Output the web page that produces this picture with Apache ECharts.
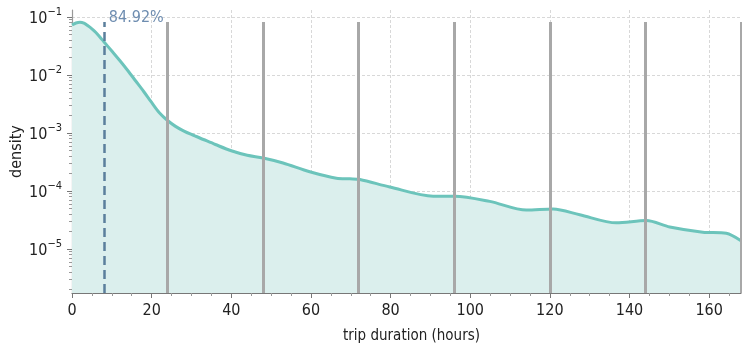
<!DOCTYPE html>
<html>
<head>
<meta charset="utf-8">
<script src="https://cdn.jsdelivr.net/npm/echarts@6/dist/echarts.min.js"></script>
<style>html,body{margin:0;padding:0;background:#fff}#c{width:742px;height:346px}</style>
</head>
<body>
<div id="c"></div>
<script>
// trip duration (hours) and estimated density
const hours   = [0, 1, 2, 3, 4, 5, 6, 7, 8, 10, 12, 14, 16, 18, 20, 22, 24, 26, 28, 30, 33, 36, 40, 44, 48, 53, 59.7, 66.4, 69.8, 72.3, 79.8, 90.7, 96.1, 104.9, 114.1, 120.8, 127.5, 136.7, 144.2, 150.1, 158.4, 164.3, 168];
const density = [7.28e-2, 7.88e-2, 8.10e-2, 7.81e-2, 7.05e-2, 6.26e-2, 5.40e-2, 4.52e-2, 3.75e-2, 2.59e-2, 1.78e-2, 1.196e-2, 7.88e-3, 5.19e-3, 3.36e-3, 2.21e-3, 1.64e-3, 1.30e-3, 1.09e-3, 9.42e-4, 7.72e-4, 6.33e-4, 4.93e-4, 4.12e-4, 3.71e-4, 3.04e-4, 2.14e-4, 1.66e-4, 1.62e-4, 1.58e-4, 1.17e-4, 8.13e-5, 8.13e-5, 6.61e-5, 4.68e-5, 4.90e-5, 3.89e-5, 2.82e-5, 3.09e-5, 2.40e-5, 1.95e-5, 1.86e-5, 1.38e-5];
const dayMarks = [24, 48, 72, 96, 120, 144, 168];
const quantileX = 8;
const quantileLabel = '84.92%';
const refTop = 8.2e-2;
const yMinD = 1.74e-6, yMaxD = 0.132;
const xTicks = [0, 20, 40, 60, 80, 100, 120, 140, 160];
const yDecades = [-5, -4, -3, -2, -1];

const L = v => Math.log10(v);
const FONT = "'Liberation Sans Narrow', 'DejaVu Sans Condensed', sans-serif";
const yMin = L(yMinD), yMax = L(yMaxD);
const minorY = [];
for (let n = -6; n <= 0; n++) for (let k = 2; k <= 9; k++) {
  const v = n + Math.log10(k);
  if (v > yMin && v < yMax) minorY.push(v);
}
const minorX = [];
for (let x = 5; x < 168; x += 5) if (x % 20 !== 0) minorX.push(x);

const curve = hours.map((h, i) => [h, L(density[i])]);
const lineTop = L(refTop), lineBot = yMin;

const chart = echarts.init(document.getElementById('c'), null, {renderer: 'canvas'});
chart.setOption({
  animation: false,
  backgroundColor: '#fff',
  textStyle: {fontFamily: FONT},
  grid: {left: 72, right: 1, top: 10, bottom: 53, containLabel: false, outerBoundsMode: 'none'},
  xAxis: [{
    type: 'value', min: 0, max: 168,
    name: 'trip duration (hours)', nameLocation: 'middle', nameGap: 36, nameMoveOverlap: false,
    nameTextStyle: {fontSize: 15, color: '#222', fontFamily: FONT, padding: [0, 0, 0, 10]},
    axisLine: {show: true, lineStyle: {color: '#777', width: 1.2}},
    axisTick: {show: true, length: 5, customValues: xTicks, lineStyle: {color: '#777'}},
    axisLabel: {customValues: xTicks, fontSize: 16, color: '#222', margin: 10, fontFamily: FONT},
    splitLine: {show: true, lineStyle: {color: '#d8d8d8', type: [3, 2], width: 1}}
  }, {
    type: 'value', min: 0, max: 168, position: 'bottom', gridIndex: 0,
    axisLine: {show: false},
    axisTick: {show: true, length: 3, customValues: minorX, lineStyle: {color: '#999'}},
    axisLabel: {show: false}, splitLine: {show: false}
  }],
  yAxis: [{
    type: 'value', min: yMin, max: yMax,
    name: 'density', nameLocation: 'middle', nameGap: 47, nameMoveOverlap: false,
    nameTextStyle: {fontSize: 16, color: '#222', fontFamily: FONT},
    axisLine: {show: true, lineStyle: {color: '#999', width: 1.2}},
    axisTick: {show: true, length: 5, customValues: yDecades, lineStyle: {color: '#777'}},
    axisLabel: {
      customValues: yDecades, margin: 10, color: '#222',
      formatter: v => '{b|10}{s|\u2212' + Math.round(-v) + '}',
      rich: {
        b: {fontSize: 16, color: '#222', fontFamily: FONT, lineHeight: 20, verticalAlign: 'bottom'},
        s: {fontSize: 11, color: '#222', fontFamily: FONT, lineHeight: 20, verticalAlign: 'top', padding: [0, 0, 6, 0]}
      }
    },
    splitLine: {show: true, lineStyle: {color: '#d8d8d8', type: [3, 2], width: 1}}
  }, {
    type: 'value', min: yMin, max: yMax, position: 'left',
    axisLine: {show: false},
    axisTick: {show: true, length: 3, customValues: minorY, lineStyle: {color: '#999'}},
    axisLabel: {show: false}, splitLine: {show: false}
  }],
  series: [{
    type: 'line',
    data: curve,
    smooth: 0.3,
    showSymbol: false,
    lineStyle: {color: '#6cc4bb', width: 3},
    areaStyle: {color: '#dbefed', origin: 'start', opacity: 1},
    z: 2,
    markLine: {
      silent: true, symbol: 'none', animation: false,
      label: {show: false},
      data: dayMarks.map(d => [
        {coord: [d, lineBot], lineStyle: {color: '#a8a8a8', width: 3, type: 'solid'}},
        {coord: [d, lineTop]}
      ]).concat([[
        {coord: [quantileX, lineBot], lineStyle: {color: '#5b7f9c', width: 2.5, type: [9, 5]}},
        {coord: [quantileX, lineTop]}
      ]])
    },
    markPoint: {
      silent: true, symbol: 'circle', symbolSize: 0,
      data: [{coord: [quantileX, lineTop], value: quantileLabel}],
      label: {show: true, position: 'right', distance: 5, offset: [0, -4], formatter: quantileLabel,
        color: '#6e8db0', fontSize: 16, fontFamily: FONT}
    }
  }]
});
</script>
</body>
</html>
